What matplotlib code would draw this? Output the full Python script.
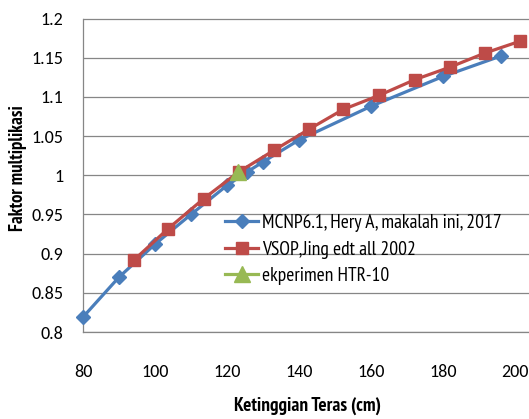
import matplotlib.pyplot as plt

# data
mcnp_x = [80, 90, 100, 110, 120, 125.5, 130, 140, 160, 180, 196]
mcnp_y = [0.819, 0.870, 0.912, 0.950, 0.987, 1.004, 1.017, 1.045, 1.088, 1.126, 1.152]

vsop_x = [94.2, 103.7, 113.5, 123.2, 133.1, 142.9, 152.3, 162.3, 172.2, 182.0, 191.7, 201.4]
vsop_y = [0.892, 0.932, 0.970, 1.004, 1.032, 1.059, 1.084, 1.102, 1.122, 1.138, 1.156, 1.171]

eksp_x = [123]
eksp_y = [1.004]

labels = ['MCNP6.1, Hery A, makalah ini, 2017', 'VSOP,Jing edt all 2002', 'ekperimen HTR-10']

plt.rcParams['font.family'] = ['Carlito', 'DejaVu Sans']

fig = plt.figure(figsize=(5.29, 4.19), dpi=100)
ax = fig.add_axes([83 / 529, 1 - 332 / 419, 1 - 83 / 529, (332 - 18.5) / 419])

ax.plot(mcnp_x, mcnp_y, color='#4A7EBB', lw=2.3, marker='D', ms=7, label=labels[0], clip_on=False, zorder=3)
ax.plot(vsop_x, vsop_y, color='#BE4B48', lw=2.3, marker='s', ms=8.5, label=labels[1], clip_on=False, zorder=4)
ax.plot(eksp_x, eksp_y, color='#98B954', lw=2.3, marker='^', ms=11, label=labels[2], clip_on=False, zorder=5)

ax.set_xlim(80, 203.9)
ax.set_ylim(0.8, 1.2)
ax.set_xticks([80, 100, 120, 140, 160, 180, 200])
ax.set_yticks([0.8, 0.85, 0.9, 0.95, 1.0, 1.05, 1.1, 1.15, 1.2])
ax.set_yticklabels(['0.8', '0.85', '0.9', '0.95', '1', '1.05', '1.1', '1.15', '1.2'])
ax.tick_params(length=0, labelsize=13, colors='#000000')
ax.tick_params(axis='x', pad=23)
ax.tick_params(axis='y', pad=14)

ax.grid(axis='y', color='#868686', lw=0.9)
ax.set_axisbelow(True)
for s in ['top', 'right']:
    ax.spines[s].set_visible(False)
for s in ['left', 'bottom']:
    ax.spines[s].set_color('#868686')
    ax.spines[s].set_linewidth(0.9)

fig.text(307 / 529, 1 - 406 / 419, 'Ketinggian Teras (cm)', ha='center', va='center',
         fontsize=13.8, fontweight='bold', family='PT Sans Narrow')
fig.text(18 / 529, 1 - 168 / 419, 'Faktor multiplikasi', ha='center', va='center',
         rotation=90, fontsize=13.5, fontweight='bold', family='PT Sans Narrow')

ax.legend(loc='upper left', bbox_to_anchor=(225 / 529, 1 - 214 / 419), bbox_transform=fig.transFigure,
          frameon=False, prop={'family': 'PT Sans Narrow', 'size': 14}, handlelength=1.7,
          handletextpad=0.2, labelspacing=0.44, borderpad=0, borderaxespad=0)

fig.savefig('out.png', dpi=100)
